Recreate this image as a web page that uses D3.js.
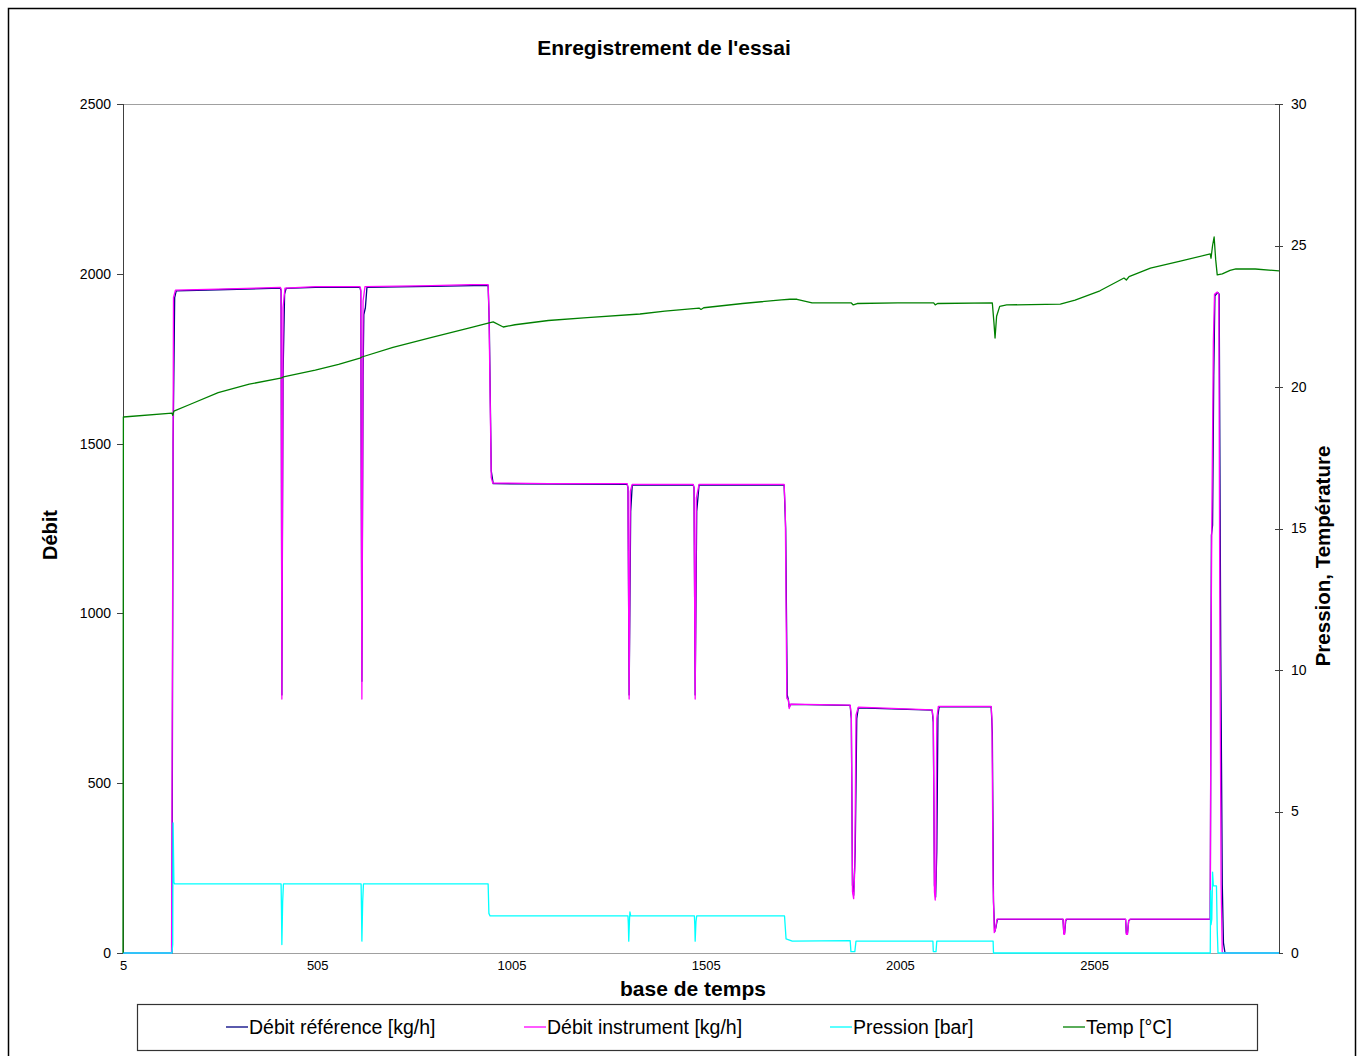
<!DOCTYPE html>
<head>
    <meta charset="utf-8">
    <title>Enregistrement de l'essai</title>
    <style>
        body { margin: 0; background: #fff; }
        svg { font-family: "Liberation Sans", Arial, sans-serif; display: block; }
        .axis path, .axis line { shape-rendering: crispEdges; }
    </style>
</head>

<body>

    <svg width="1364" height="1056"></svg>

    <script src="https://d3js.org/d3.v7.min.js"></script>

    <script>

        // x tick labels and axis ticks
        var xTicks = [5, 505, 1005, 1505, 2005, 2505];
        var leftTicks = [0, 500, 1000, 1500, 2000, 2500];
        var rightTicks = [0, 5, 10, 15, 20, 25, 30];

        // [base de temps, valeur]
        var debitReference = [
            [5, 0], [131, 0], [134, 1500], [138, 1930], [142, 1950], [250, 1953], [410, 1958], [412, 1950],
            [414, 760], [417, 1700], [421, 1940], [425, 1957], [500, 1960], [615, 1960], [617, 1950],
            [620, 800], [623, 1700], [625, 1880], [629, 1900], [633, 1960], [800, 1963], [945, 1966],
            [948, 1850], [953, 1420], [958, 1382], [1303, 1380], [1305, 1370], [1308, 760], [1312, 1300],
            [1316, 1378], [1473, 1378], [1475, 1370], [1478, 760], [1482, 1300], [1488, 1378], [1707, 1378],
            [1711, 1250], [1715, 760], [1718, 745], [1720, 725], [1724, 732], [1877, 729], [1880, 690],
            [1883, 200], [1886, 170], [1890, 300], [1894, 690], [1898, 722], [2088, 715], [2091, 680],
            [2094, 200], [2097, 165], [2100, 300], [2103, 700], [2106, 725], [2240, 725], [2243, 650],
            [2246, 150], [2249, 62], [2252, 75], [2256, 99], [2425, 99], [2427, 58], [2429, 58], [2432, 95],
            [2434, 99], [2586, 99], [2588, 58], [2591, 58], [2594, 95], [2598, 99], [2804, 99], [2807, 1230],
            [2810, 1260], [2813, 1700], [2816, 1935], [2823, 1945], [2827, 1940], [2831, 900], [2835, 200],
            [2838, 30], [2842, 0], [2981, 0]
        ];

        var debitInstrument = [
            [5, 0], [130, 0], [135, 1930], [140, 1952], [250, 1955], [410, 1960], [412, 1955], [414, 748],
            [417, 1900], [422, 1958], [500, 1962], [615, 1962], [617, 1955], [620, 748], [623, 1920],
            [628, 1962], [800, 1965], [900, 1968], [945, 1968], [947, 1900], [953, 1400], [957, 1384],
            [1100, 1382], [1303, 1382], [1305, 1370], [1308, 748], [1311, 1360], [1316, 1380], [1473, 1380],
            [1475, 1370], [1478, 748], [1481, 1340], [1488, 1380], [1707, 1380], [1710, 1300], [1714, 750],
            [1718, 745], [1720, 720], [1724, 733], [1877, 730], [1880, 700], [1883, 180], [1886, 160],
            [1889, 250], [1892, 700], [1898, 724], [2088, 716], [2091, 690], [2094, 180], [2096, 156],
            [2098, 250], [2100, 690], [2104, 726], [2240, 726], [2242, 690], [2245, 200], [2248, 60],
            [2251, 70], [2255, 100], [2425, 100], [2427, 55], [2429, 55], [2431, 95], [2433, 100],
            [2586, 100], [2588, 55], [2591, 55], [2594, 95], [2598, 100], [2804, 100], [2806, 900],
            [2808, 1260], [2812, 1800], [2815, 1940], [2822, 1946], [2826, 1940], [2829, 900], [2832, 200],
            [2835, 0], [2981, 0]
        ];

        var pression = [
            [5, 0], [131, 0], [133, 0.3], [134, 4.6], [136, 2.5], [138, 2.44], [412, 2.44], [413, 1.5],
            [414, 0.3], [416, 1.8], [418, 2.44], [618, 2.44], [619, 1.5], [620, 0.42], [622, 1.8],
            [624, 2.44], [945, 2.44], [947, 1.4], [950, 1.31], [1305, 1.31], [1306, 1.0], [1307, 0.42],
            [1309, 1.2], [1310, 1.45], [1312, 1.31], [1476, 1.31], [1477, 1.0], [1478, 0.42], [1480, 1.1],
            [1482, 1.31], [1708, 1.31], [1712, 0.5], [1728, 0.42], [1877, 0.44], [1879, 0.05], [1889, 0.05],
            [1892, 0.42], [2090, 0.42], [2091, 0.05], [2098, 0.05], [2100, 0.42], [2245, 0.42], [2246, 0],
            [2804, 0], [2805, 2.2], [2806, 1.0], [2808, 1.2], [2810, 2.86], [2812, 2.37], [2820, 2.37],
            [2822, 0.8], [2824, 0], [2981, 0]
        ];

        var temp = [
            [5, 0], [6, 18.94], [131, 19.08], [133, 19.0], [136, 19.15], [180, 19.4], [250, 19.8],
            [330, 20.1], [414, 20.32], [418, 20.36], [500, 20.6], [560, 20.8], [615, 21.02], [620, 21.06],
            [700, 21.4], [800, 21.75], [900, 22.1], [945, 22.26], [958, 22.3], [984, 22.12], [1014, 22.2],
            [1100, 22.35], [1200, 22.45], [1336, 22.58], [1400, 22.68], [1488, 22.79], [1493, 22.74],
            [1500, 22.8], [1600, 22.95], [1700, 23.08], [1722, 23.1], [1740, 23.1], [1779, 22.97],
            [1880, 22.97], [1885, 22.9], [1895, 22.95], [2000, 22.97], [2092, 22.97], [2096, 22.9],
            [2102, 22.95], [2243, 22.97], [2247, 22.3], [2250, 21.73], [2254, 22.5], [2262, 22.85],
            [2280, 22.9], [2418, 22.93], [2456, 23.07], [2520, 23.4], [2582, 23.85], [2588, 23.78],
            [2595, 23.9], [2650, 24.2], [2727, 24.45], [2804, 24.7], [2806, 24.55], [2810, 25.0],
            [2814, 25.3], [2818, 24.5], [2822, 23.96], [2835, 24.0], [2855, 24.12], [2870, 24.17],
            [2920, 24.17], [2981, 24.1]
        ];

        var series = [
            { name: "Débit référence [kg/h]", values: debitReference, axis: "left", color: "#000080" },
            { name: "Débit instrument [kg/h]", values: debitInstrument, axis: "left", color: "#ff00ff" },
            { name: "Pression [bar]", values: pression, axis: "right", color: "#00ffff" },
            { name: "Temp [°C]", values: temp, axis: "right", color: "#008000" }
        ];

        var svg = d3.select("svg"),
            margin = { top: 104, right: 85, bottom: 103, left: 123 },
            width = svg.attr("width") - margin.left - margin.right,
            height = svg.attr("height") - margin.top - margin.bottom;

        var x = d3.scaleLinear().domain([5, 2981]).range([0, width]),
            yLeft = d3.scaleLinear().domain([0, 2500]).range([height, 0]),
            yRight = d3.scaleLinear().domain([0, 30]).range([height, 0]);

        var fmt = d3.format("d");

        // chart frame
        svg.append("rect")
            .attr("x", 8.5).attr("y", 8.5)
            .attr("width", 1347).attr("height", 1070)
            .attr("fill", "none")
            .attr("stroke", "#000")
            .attr("stroke-width", 1.5);

        svg.append("text")
            .attr("x", 664).attr("y", 55)
            .attr("text-anchor", "middle")
            .style("font-weight", "bold").style("font-size", "21px")
            .text("Enregistrement de l'essai");

        var g = svg.append("g")
            .attr("transform", "translate(" + margin.left + "," + margin.top + ")");

        // top of plot area
        g.append("line")
            .attr("x1", 0).attr("x2", width)
            .attr("y1", 0.5).attr("y2", 0.5)
            .attr("stroke", "#a0a0a0");

        var xAxis = g.append("g")
            .attr("class", "axis axis--x")
            .attr("transform", "translate(0," + height + ")")
            .call(d3.axisBottom(x).tickValues(xTicks).tickFormat(fmt).tickSize(0).tickPadding(8));
        xAxis.select(".domain").attr("stroke", "#a0a0a0");

        var leftAxis = g.append("g")
            .attr("class", "axis axis--y")
            .call(d3.axisLeft(yLeft).tickValues(leftTicks).tickFormat(fmt).tickSizeOuter(0).tickSize(6).tickPadding(6));
        leftAxis.selectAll(".domain, line").attr("stroke", "#404040");

        var rightAxis = g.append("g")
            .attr("class", "axis axis--y2")
            .attr("transform", "translate(" + width + ",0)")
            .call(d3.axisRight(yRight).tickValues(rightTicks).tickFormat(fmt).tickSizeOuter(0).tickSize(4).tickPadding(8));
        rightAxis.selectAll(".domain, line").attr("stroke", "#404040");
        rightAxis.selectAll(".tick line").attr("x1", -4);

        g.selectAll(".axis text")
            .style("font-size", "14px")
            .style("font-family", "'Liberation Sans', Arial, sans-serif")
            .attr("fill", "#000");
        xAxis.selectAll("text").style("font-size", "13px");

        // data lines
        series.forEach(function (s) {
            var yScale = s.axis === "left" ? yLeft : yRight;
            var line = d3.line()
                .x(function (d) { return x(d[0]); })
                .y(function (d) { return yScale(d[1]); });
            g.append("path")
                .datum(s.values)
                .attr("fill", "none")
                .attr("stroke", s.color)
                .attr("stroke-width", 1.3)
                .attr("stroke-linejoin", "round")
                .attr("d", line);
        });

        // axis titles
        svg.append("text")
            .attr("x", 693).attr("y", 996)
            .attr("text-anchor", "middle")
            .style("font-weight", "bold").style("font-size", "21px")
            .text("base de temps");

        svg.append("text")
            .attr("transform", "translate(57,535) rotate(-90)")
            .attr("text-anchor", "middle")
            .style("font-weight", "bold").style("font-size", "20px")
            .text("Débit");

        svg.append("text")
            .attr("transform", "translate(1330,556) rotate(-90)")
            .attr("text-anchor", "middle")
            .style("font-weight", "bold").style("font-size", "20.5px")
            .text("Pression, Température");

        // legend
        var legendX = [226, 524, 830, 1063];
        svg.append("rect")
            .attr("x", 137.5).attr("y", 1004.5)
            .attr("width", 1120).attr("height", 46)
            .attr("fill", "none")
            .attr("stroke", "#333")
            .attr("stroke-width", 1.2);

        var item = svg.selectAll(".legend")
            .data(series)
            .enter().append("g")
            .attr("class", "legend")
            .attr("transform", function (d, i) { return "translate(" + legendX[i] + ",1027)"; });

        item.append("line")
            .attr("x1", 0).attr("x2", 22)
            .attr("stroke", function (d) { return d.color; })
            .attr("stroke-width", 1.3);

        item.append("text")
            .attr("x", 23).attr("dy", "0.35em")
            .style("font-size", "19.5px")
            .text(function (d) { return d.name; });

    </script>

</body>
